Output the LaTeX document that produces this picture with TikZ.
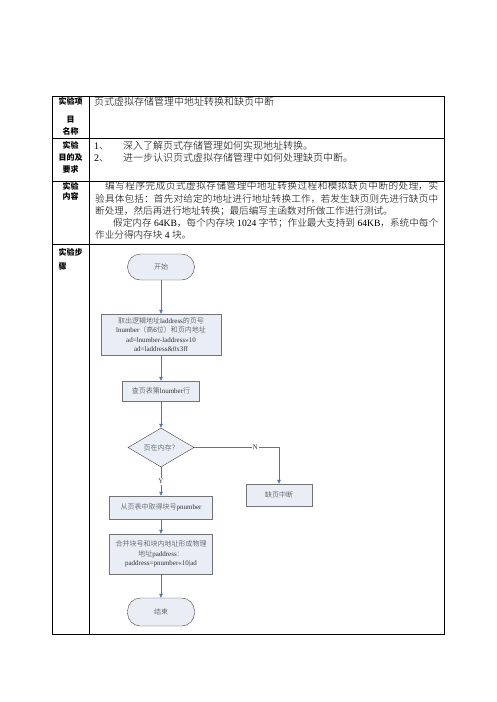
\documentclass[tikz,border=0pt]{standalone}
\usepackage{fontspec}
\setmainfont{Liberation Serif}
\newfontfamily\cjk{Noto Sans CJK SC}[UprightFont={* Light}, BoldFont={* Black}]
\usetikzlibrary{shapes.geometric,arrows.meta}

% 中文字符自动切换字体
\XeTeXlinebreaklocale "zh"
\XeTeXlinebreakskip=0pt plus 1.5pt
\newXeTeXintercharclass\cjkcls
\newcount\cjkchar
\cjkchar="3000
\loop \XeTeXcharclass\cjkchar=\cjkcls \ifnum\cjkchar<"303F \advance\cjkchar by 1 \repeat
\cjkchar="4E00
\loop \XeTeXcharclass\cjkchar=\cjkcls \ifnum\cjkchar<"9FFF \advance\cjkchar by 1 \repeat
\cjkchar="FF00
\loop \XeTeXcharclass\cjkchar=\cjkcls \ifnum\cjkchar<"FFEF \advance\cjkchar by 1 \repeat
\XeTeXinterchartoks 0 \cjkcls = {\cjk}
\XeTeXinterchartoks 4095 \cjkcls = {\cjk}
\XeTeXinterchartoks \cjkcls 0 = {\rmfamily}
\XeTeXinterchartoks \cjkcls 4095 = {\rmfamily}
\XeTeXinterchartokenstate=1

\definecolor{boxfill}{HTML}{E8EDF6}
\definecolor{flowline}{HTML}{4F72B8}

\tikzset{
 lab/.style={font=\bfseries\fontsize{8}{#1}\selectfont, align=center, inner sep=0pt},
 cell/.style={anchor=base west, inner sep=0pt, font=\fontsize{10}{12}\selectfont},
 term/.style={draw=black!75, fill=boxfill, rounded corners=13pt, minimum width=67pt,
   minimum height=#1, text=black!80, font=\fontsize{7}{9}\selectfont},
 proc/.style={draw=black!55, fill=boxfill, inner sep=1pt, align=center, text=black!80,
   font=\fontsize{7}{9.3}\selectfont},
 decide/.style={diamond, aspect=1.7, draw=black!75, fill=boxfill, inner sep=0pt,
   minimum width=66pt, minimum height=39pt, text=black!80, font=\fontsize{7}{9}\selectfont},
 flow/.style={flowline, line width=0.6pt, -{Triangle[length=4pt,width=3.5pt]}},
 yesno/.style={fill=white, inner sep=1pt, text=black!80, font=\fontsize{7}{8}\selectfont}
}

\begin{document}
\begin{tikzpicture}[x=1pt,y=-1pt]
 \useasboundingbox (0,0) rectangle (496,702);

 % 表格
 \draw[line width=0.8pt] (52,96.5) rectangle (444,634);
 \draw[line width=0.8pt] (89,96.5) -- (89,634);
 \foreach \y in {138,181,244}
  \draw[line width=0.8pt] (52,\y) -- (444,\y);

 % 左列标题
 \node[lab=12pt]   (lab1) at (70.5,116)   {实验项\\[6pt]目\\名称};
 \node[lab=11.6pt] (lab2) at (70.5,157.5) {实验\\目的及\\要求};
 \node[lab=10pt]   (lab3) at (70.5,191)   {实验\\内容};
 \node[lab=14pt, align=left] (lab4) at (70.5,259) {实验步\\骤};

 % 表格内容
 \node[cell] (title) at (94,105.8) {页式虚拟存储管理中地址转换和缺页中断};
 \node[cell] (aimno1) at (94,149.8) {1、};
 \node[cell] (aim1)   at (123,149.8) {深入了解页式存储管理如何实现地址转换。};
 \node[cell] (aimno2) at (94,161.5) {2、};
 \node[cell] (aim2)   at (123,161.5) {进一步认识页式虚拟存储管理中如何处理缺页中断。};
 \node[cell, text width=343pt, align=justify, font=\fontsize{9.6}{12.3}\selectfont] (task) at (95,189.7)
  {\hspace*{10pt}编写程序完成页式虚拟存储管理中地址转换过程和模拟缺页中断的处理，实\linebreak
   验具体包括：首先对给定的地址进行地址转换工作，若发生缺页则先进行缺页中\linebreak
   断处理，然后再进行地址转换；最后编写主函数对所做工作进行测试。\par
   \hspace*{18pt}假定内存 64KB，每个内存块 1024 字节；作业最大支持到 64KB，系统中每个\linebreak
   作业分得内存块 4 块。};

 % 流程图
 \node[term=26pt] (start) at (161,267) {开始};
 \node[proc, minimum width=120pt, minimum height=41pt] (lread) at (161,334.5)
  {取出逻辑地址laddress的页号\\lnumber（高6位）和页内地址\\ad=lnumber-laddress>>10\\ad=laddress\&0x3ff};
 \node[proc, minimum width=77pt, minimum height=20pt] (lookup) at (161,391) {查页表第lnumber行};
 \node[decide] (inmem) at (161,447.5) {页在内存？};
 \node[proc, minimum width=66pt, minimum height=22pt] (pfault) at (279,495) {缺页中断};
 \node[proc, minimum width=103pt, minimum height=23pt] (getblk) at (161,507.5) {从页表中取得块号pnumber};
 \node[proc, minimum width=103pt, minimum height=40pt] (phys) at (161,554)
  {合并块号和块内地址形成物理\\地址paddress：\\paddress=pnumber<<10|ad};
 \node[term=28pt] (stop) at (161,612) {结束};

 % 连线
 \draw[flow] (start) -- (lread);
 \draw[flow] (lread) -- (lookup);
 \draw[flow] (lookup) -- (inmem);
 \draw[flow] (inmem) -- node[yesno] {Y} (getblk);
 \draw[flow] (inmem.east) -- node[yesno, pos=0.72] {N} (inmem.east -| pfault) -- (pfault);
 \draw[flow] (getblk) -- (phys);
 \draw[flow] (phys) -- (stop);
\end{tikzpicture}
\end{document}
